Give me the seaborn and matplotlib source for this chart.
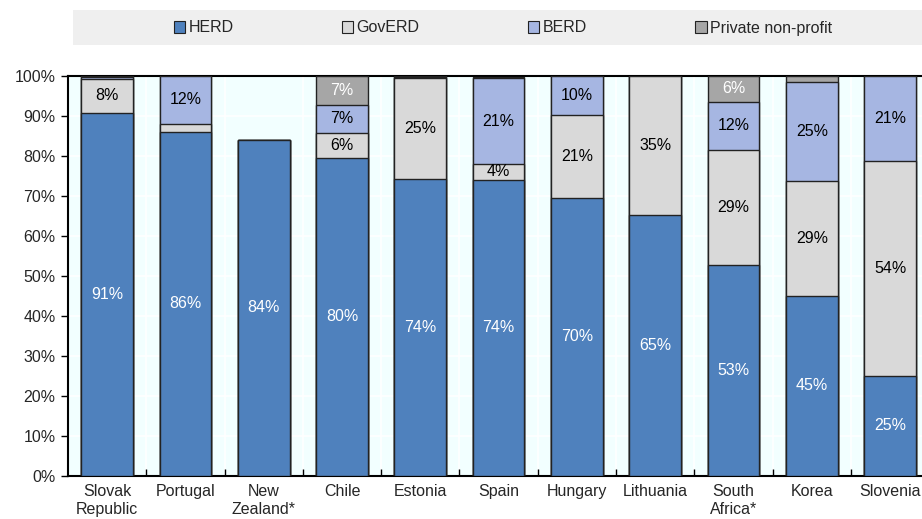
import numpy as np
import pandas as pd
import seaborn as sns
import matplotlib.pyplot as plt
from matplotlib.patches import Patch, Rectangle

# Data (share of total, %)
countries = ["Slovak\nRepublic", "Portugal", "New\nZealand*", "Chile", "Estonia", "Spain",
             "Hungary", "Lithuania", "South\nAfrica*", "Korea", "Slovenia"]
herd = [90.8, 86.0, 84.0, 79.6, 74.2, 74.0, 69.6, 65.2, 52.8, 45.0, 25.0]
goverd = [8.4, 2.0, 0.0, 6.2, 25.3, 4.0, 20.6, 34.8, 28.7, 28.7, 53.8]
berd = [0.6, 12.0, 0.0, 7.0, 0.2, 21.4, 9.8, 0.0, 12.0, 24.8, 21.2]
private = [0.2, 0.0, 0.0, 7.2, 0.3, 0.4, 0.0, 0.0, 6.5, 1.5, 0.0]

series = ["HERD", "GovERD", "BERD", "Private non-profit"]
colors = ["#4F81BD", "#D9D9D9", "#A6B6E2", "#A6A6A6"]
label_colors = ["white", "black", "black", "white"]

df = pd.DataFrame({"country": countries, "HERD": herd, "GovERD": goverd,
                   "BERD": berd, "Private non-profit": private})

sns.set_style("ticks")
plt.rcParams["font.family"] = ["Liberation Sans Narrow", "Liberation Sans", "DejaVu Sans"]

fig = plt.figure(figsize=(9.22, 5.19), dpi=100)
ax = fig.add_axes([0.0738, 0.0829, 0.934, 0.7707])
ax.set_facecolor("#F2FFFF")

# cumulative tops, drawn back to front
cum = df[series].cumsum(axis=1)
for s, c in reversed(list(zip(series, colors))):
    sns.barplot(x=df["country"], y=cum[s], color=c, width=0.66, edgecolor="#222222",
                linewidth=1.0, saturation=1, ax=ax, zorder=3)

# segment labels
for i in range(len(countries)):
    base = 0.0
    for s, lc in zip(series, label_colors):
        v = df[s].iloc[i]
        if v >= 3:
            ax.text(i, base + v / 2, f"{round(v):.0f}%", ha="center", va="center",
                    color=lc, fontsize=11.5, zorder=4)
        base += v

ax.set_xlim(-0.5, 10.5)
ax.set_ylim(0, 100)
ax.set_yticks(np.arange(0, 101, 10))
ax.set_yticklabels([f"{t}%" for t in range(0, 101, 10)], fontsize=11.5)
ax.set_xticks(range(len(countries)))
ax.set_xticklabels(countries, fontsize=11.5, linespacing=1.2)
ax.set_xticks(np.arange(0.5, 10.5, 1), minor=True)
ax.tick_params(axis="x", which="major", length=0, pad=6)
ax.tick_params(axis="x", which="minor", direction="in", length=5, width=1, color="black")
ax.tick_params(axis="y", direction="out", length=5, width=1, color="black", pad=4)
ax.set_xlabel("")
ax.set_ylabel("")

ax.grid(True, axis="y", color="white", linewidth=1.2, zorder=0)
ax.grid(True, axis="x", which="minor", color="white", linewidth=1.2, zorder=0)
ax.set_axisbelow(True)
for sp in ["left", "bottom", "top"]:
    ax.spines[sp].set_color("black")
    ax.spines[sp].set_linewidth(1.5)

# legend band
fig.patches.append(Rectangle((73 / 922, 1 - 45 / 519), 1, 35 / 519, transform=fig.transFigure,
                             facecolor="#EFEFEF", edgecolor="none", zorder=0))
handles = [Patch(facecolor=c, edgecolor="#222222", linewidth=0.8, label=s)
           for s, c in zip(series, colors)]
fig.legend(handles=handles, loc="center", bbox_to_anchor=(503 / 922, 1 - 28 / 519), ncol=4,
           frameon=False, fontsize=11.5, handlelength=0.7, handleheight=0.7,
           handletextpad=0.2, columnspacing=6.8)

fig.savefig("out.png", dpi=100)
